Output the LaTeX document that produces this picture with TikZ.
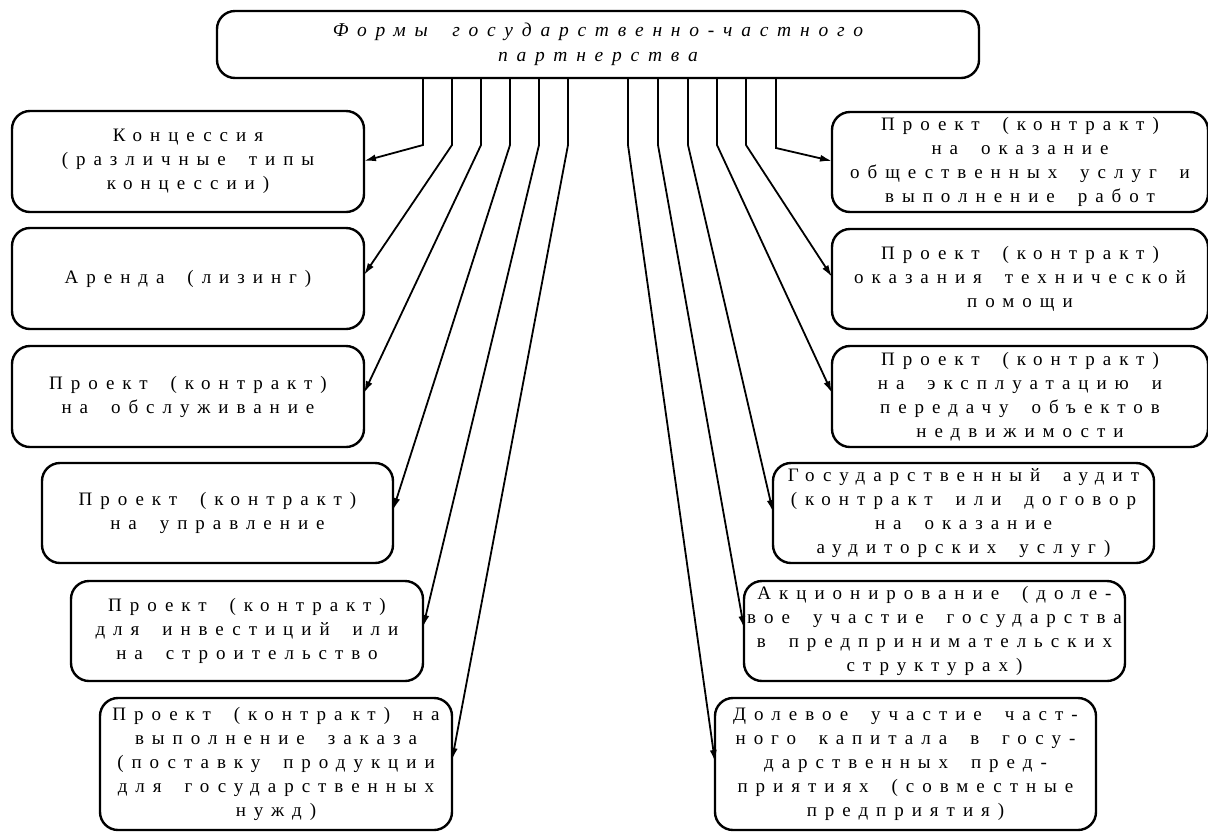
\documentclass[tikz,border=0pt]{standalone}
\usepackage{fontspec}
\setmainfont{Liberation Serif}
\newfontfamily\spc[LetterSpace=42,WordSpace=1.8]{Liberation Serif}
\newfontfamily\spct[LetterSpace=45,WordSpace=1.8]{Liberation Serif}
\usetikzlibrary{arrows.meta}
\begin{document}
\begin{tikzpicture}[x=1pt,y=-1pt,
  box/.style={draw, line width=2.4pt, rounded corners=18pt, inner sep=0pt, outer sep=0pt,
    align=center, font=\spc\fontsize{19}{24}\selectfont},
  conn/.style={line width=1.8pt, -{Latex[length=12pt,width=7pt]}}]
\useasboundingbox (0,0) rectangle (1208,831);
\node[box, minimum width=762pt, minimum height=67pt, font=\spct\itshape\fontsize{19.5}{25}\selectfont] (top) at (598,44.5)
  {\raisebox{-2pt}{Формы государственно-частного}\\\raisebox{-2pt}{партнерства}};
\node[box, minimum width=352pt, minimum height=101pt] (L1) at (188,161.5) {Концессия\\(различные типы\\концессии)};
\node[box, minimum width=352pt, minimum height=101pt] (L2) at (188,278.5) {Аренда (лизинг)};
\node[box, minimum width=352pt, minimum height=101pt] (L3) at (188,396.5) {Проект (контракт)\\на обслуживание};
\node[box, minimum width=351pt, minimum height=100pt] (L4) at (217.5,513) {Проект (контракт)\\на управление};
\node[box, minimum width=352pt, minimum height=100pt] (L5) at (247,631) {Проект (контракт)\\для инвестиций или\\на строительство};
\node[box, minimum width=352pt, minimum height=132pt] (L6) at (276,764) {Проект (контракт) на\\выполнение заказа\\(поставку продукции\\для государственных\\нужд)};
\node[box, minimum width=376pt, minimum height=100pt] (R1) at (1020,162) {Проект (контракт)\\на оказание\\общественных услуг и\\выполнение работ};
\node[box, minimum width=376pt, minimum height=100pt] (R2) at (1020,279) {Проект (контракт)\\оказания технической\\помощи};
\node[box, minimum width=376pt, minimum height=101pt] (R3) at (1020,396.5) {Проект (контракт)\\на эксплуатацию и\\передачу объектов\\недвижимости};
\node[box, minimum width=381pt, minimum height=100pt] (R4) at (963.5,513) {Государственный аудит\\(контракт или договор\\на оказание\\аудиторских услуг)};
\node[box, minimum width=381pt, minimum height=100pt] (R5) at (934.5,631) {Акционирование (доле-\\вое участие государства\\в предпринимательских\\структурах)};
\node[box, minimum width=381pt, minimum height=132pt] (R6) at (905.5,764) {Долевое участие част-\\ного капитала в госу-\\дарственных пред-\\приятиях (совместные\\предприятия)};
\draw[conn] (top.south -| 423,0) -- (423,145) -- (L1.east |- 0,161);
\draw[conn] (top.south -| 452,0) -- (452,145) -- (L2.east |- 0,275);
\draw[conn] (top.south -| 481,0) -- (481,145) -- (L3.east |- 0,393);
\draw[conn] (top.south -| 510,0) -- (510,145) -- (L4.east |- 0,510);
\draw[conn] (top.south -| 539,0) -- (539,145) -- (L5.east |- 0,627);
\draw[conn] (top.south -| 568,0) -- (568,145) -- (L6.east |- 0,760);
\draw[conn] (top.south -| 776,0) -- (776,148) -- (R1.west |- 0,161);
\draw[conn] (top.south -| 746,0) -- (746,145) -- (R2.west |- 0,277);
\draw[conn] (top.south -| 717,0) -- (717,145) -- (R3.west |- 0,393);
\draw[conn] (top.south -| 688,0) -- (688,145) -- (R4.west |- 0,512);
\draw[conn] (top.south -| 658,0) -- (658,145) -- (R5.west |- 0,628);
\draw[conn] (top.south -| 628,0) -- (628,145) -- (R6.west |- 0,762);
\end{tikzpicture}
\end{document}
